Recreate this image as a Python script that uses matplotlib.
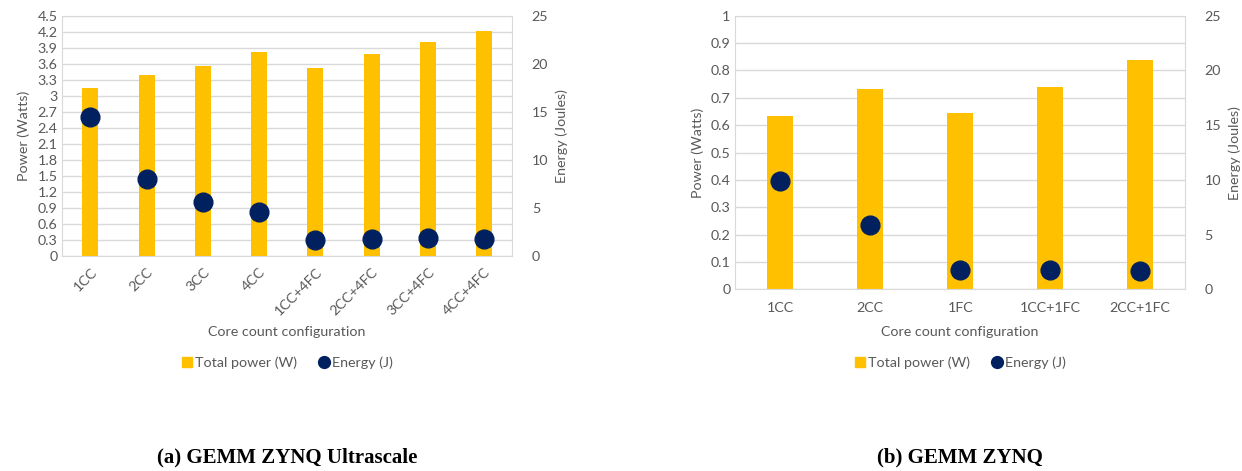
import matplotlib
matplotlib.use("Agg")
import matplotlib.pyplot as plt
from matplotlib.lines import Line2D
import numpy as np

plt.rcParams['font.family'] = ['Lato', 'DejaVu Sans']

# ---- data ----
cats_a = ["1CC", "2CC", "3CC", "4CC", "1CC+4FC", "2CC+4FC", "3CC+4FC", "4CC+4FC"]
power_a = [3.15, 3.39, 3.56, 3.82, 3.52, 3.78, 4.00, 4.22]
energy_a = [14.5, 8.0, 5.6, 4.6, 1.7, 1.8, 1.9, 1.75]

cats_b = ["1CC", "2CC", "1FC", "1CC+1FC", "2CC+1FC"]
power_b = [0.632, 0.732, 0.645, 0.739, 0.839]
energy_b = [9.9, 5.85, 1.75, 1.78, 1.72]

caption_a = "(a) GEMM ZYNQ Ultrascale"
caption_b = "(b) GEMM ZYNQ"

BAR = "#FFC000"
DOT = "#002060"
GRID = "#D9D9D9"
TXT = "#595959"
FS = 10.3

fig = plt.figure(figsize=(12.42, 4.71), dpi=100)

def make(rect, cats, power, energy, pmax, pstep, rot):
    ax = fig.add_axes(rect)
    x = np.arange(len(cats))
    ax.bar(x, power, width=0.285, color=BAR, zorder=2)
    ax.set_xlim(-0.5, len(cats) - 0.5)
    ax.set_ylim(0, pmax)
    ticks = np.round(np.arange(0, pmax + pstep / 2, pstep), 2)
    ax.set_yticks(ticks)
    ax.set_yticklabels([f"{t:g}" for t in ticks])
    ax.yaxis.grid(True, color=GRID, linewidth=1.0)
    ax.set_axisbelow(True)
    for s in ax.spines.values():
        s.set_color(GRID)
    ax.tick_params(length=0, colors=TXT, labelsize=FS)
    ax.set_xticks(x)
    if rot:
        ax.set_xticklabels(cats, rotation=45, ha='right', rotation_mode='anchor')
        ax.tick_params(axis='x', pad=7)
    else:
        ax.set_xticklabels(cats)
        ax.tick_params(axis='x', pad=9)
    ax.set_ylabel("Power (Watts)", color=TXT, fontsize=FS, labelpad=5)
    ax2 = ax.twinx()
    ax2.plot(x, energy, 'o', color=DOT, markersize=13.5, zorder=3)
    ax2.set_ylim(0, 25)
    ax2.set_yticks(np.arange(0, 26, 5))
    for s in ax2.spines.values():
        s.set_visible(False)
    ax2.tick_params(length=0, colors=TXT, labelsize=FS, pad=14)
    ax2.set_ylabel("Energy (Joules)", color=TXT, fontsize=FS, labelpad=5)
    return ax

ax_a = make([0.0502, 0.4565, 0.3623, 0.5102], cats_a, power_a, energy_a, 4.5, 0.3, True)
ax_b = make([0.592, 0.3854, 0.3623, 0.5813], cats_b, power_b, energy_b, 1.0, 0.1, False)

def fy(py):
    return 1 - py / 471.0

def fx(px):
    return px / 1242.0

handles = [Line2D([], [], marker='s', color=BAR, linestyle='None', markersize=7.5),
           Line2D([], [], marker='o', color=DOT, linestyle='None', markersize=8.5)]
labels = ["Total power (W)", "Energy (J)"]

for cx, cap in [(287, caption_a), (960, caption_b)]:
    fig.text(fx(cx), fy(332), "Core count configuration", ha='center', va='center',
             color=TXT, fontsize=FS)
    leg = fig.legend(handles, labels, loc='center', bbox_to_anchor=(fx(cx), fy(363)),
                     ncol=2, frameon=False, fontsize=FS, handlelength=0.8,
                     handletextpad=0.15, columnspacing=1.5)
    for t in leg.get_texts():
        t.set_color(TXT)
    fig.text(fx(cx), fy(457), cap, ha='center', va='center', fontsize=15,
             fontweight='bold', family=['Liberation Serif', 'DejaVu Serif'])

fig.savefig("out.png", dpi=100)
